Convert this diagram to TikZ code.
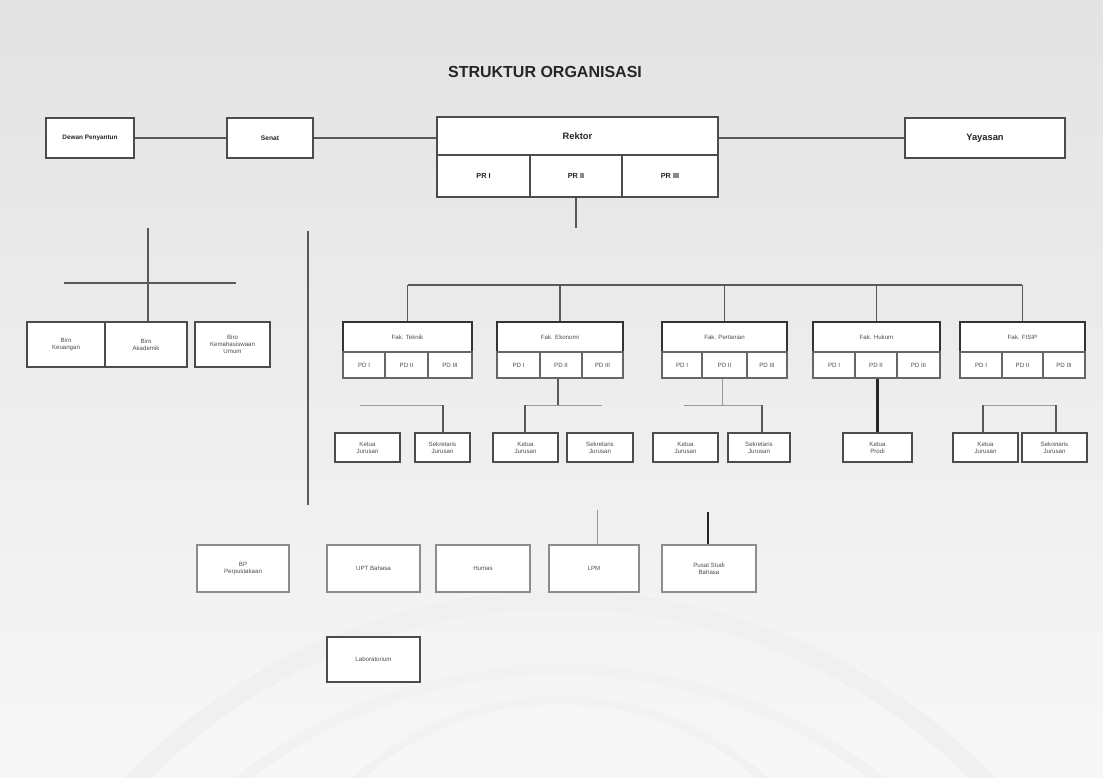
\documentclass[tikz,border=0pt]{standalone}
\usepackage{fontspec}
\setmainfont{Liberation Sans}
\newcommand\bx[7][]{%
  \pgfmathsetmacro\bxw{(#5-#3)*0.75}%
  \pgfmathsetmacro\bxh{(#6-#4)*0.75}%
  \node[box,#1,minimum width=\bxw pt,minimum height=\bxh pt] (#2) at ({(#3+#5)/2},{(#4+#6)/2}) {#7};}
\tikzset{
  box/.style={draw=black!70, fill=white, line width=1.1pt, inner sep=0.5pt, align=center,
    font=\fontsize{4.6}{5.2}\selectfont, text=black!70},
  bigbox/.style={box, line width=1.3pt, font=\bfseries\fontsize{7}{8}\selectfont, text=black!85},
  subbox/.style={bigbox, font=\bfseries\fontsize{5.5}{6}\selectfont},
  facbox/.style={box, line width=1.7pt, draw=black!80},
  con/.style={draw=black!65, line width=0.9pt},
  faint/.style={draw=black!40, line width=0.6pt},
  heavy/.style={draw=black!85, line width=1.7pt},
}
\begin{document}
\begin{tikzpicture}[x=0.75pt,y=-0.75pt]
\useasboundingbox (0,0) rectangle (1103,778);
\shade[top color=black!11, bottom color=black!3] (0,0) rectangle (1103,778);
% faint watermark
\begin{scope}
\clip (0,560) rectangle (1103,778);
\draw[black!6, line width=14pt] (560,1190) circle[radius=590];
\draw[black!5, line width=8pt] (560,1190) circle[radius=520];
\draw[black!5, line width=6pt] (560,1000) circle[radius=300];
\end{scope}
% title
\node[font=\bfseries\fontsize{12}{12}\selectfont, text=black!85] (title) at (545,72) {STRUKTUR ORGANISASI};
% top row
\bx[bigbox, font=\bfseries\fontsize{4.8}{5.2}\selectfont]{ya}{46}{118}{134}{158}{Dewan Penyantun}
\bx[bigbox, font=\bfseries\fontsize{5}{5.2}\selectfont]{se}{227}{118}{313}{158}{Senat}
\bx[bigbox]{rk}{437}{117}{718}{155}{Rektor}
\bx[subbox]{pr1}{437}{155}{530}{197}{PR I}
\bx[subbox]{pr2}{530}{155}{622}{197}{PR II}
\bx[subbox]{pr3}{622}{155}{718}{197}{PR III}
\bx[bigbox]{yy}{905}{118}{1065}{158}{Yayasan}
\draw[con] (ya.east) -- (se.west);
\draw[con] (se.east) -- (se.east -| rk.west);
\draw[con] (rk.east |- yy.west) -- (yy.west);
\coordinate (rkd) at (576,228);
\draw[con] (pr2.south) -- (pr2.south |- rkd);
% left cluster
\coordinate (lt) at (148,228);
\coordinate (lh1) at (64,283);
\coordinate (lh2) at (236,283);
\bx{b1}{27}{322}{105}{367}{Biro\\Keuangan}
\bx{b2}{105}{322}{187}{367}{Biro\\Akademik}
\bx{b3}{195}{322}{270}{367}{Biro\\Kemahasiswaan\\Umum}
\draw[con] (lt) -- (lt |- b2.north);
\draw[con] (lh1) -- (lh2);
\coordinate (vt) at (308,231);
\coordinate (vb) at (308,505);
\draw[con] (vt) -- (vb);
% faculty boxes
\coordinate (busl) at (408,285);
\coordinate (busr) at (1022,285);
\draw[con] (busl) -- (busr);
\bx[facbox]{f1}{343}{322}{472}{352}{Fak. Teknik}
\bx[facbox]{f2}{497}{322}{623}{352}{Fak. Ekonomi}
\bx[facbox]{f3}{662}{322}{787}{352}{Fak. Pertanian}
\bx[facbox]{f4}{813}{322}{940}{352}{Fak. Hukum}
\bx[facbox]{f5}{960}{322}{1085}{352}{Fak. FISIP}
\foreach \f in {f1,f2,f3,f4,f5}{\draw[con] (\f.north |- busl) -- (\f.north);}
% sub cells
\bx[box, draw=black!60]{f1a}{343}{352}{385}{378}{PD I}
\bx[box, draw=black!60]{f1b}{385}{352}{428}{378}{PD II}
\bx[box, draw=black!60]{f1c}{428}{352}{472}{378}{PD III}
\bx[box, draw=black!60]{f2a}{497}{352}{540}{378}{PD I}
\bx[box, draw=black!60]{f2b}{540}{352}{582}{378}{PD II}
\bx[box, draw=black!60]{f2c}{582}{352}{623}{378}{PD III}
\bx[box, draw=black!60]{f3a}{662}{352}{702}{378}{PD I}
\bx[box, draw=black!60]{f3b}{702}{352}{747}{378}{PD II}
\bx[box, draw=black!60]{f3c}{747}{352}{787}{378}{PD III}
\bx[box, draw=black!60]{f4a}{813}{352}{855}{378}{PD I}
\bx[box, draw=black!60]{f4b}{855}{352}{897}{378}{PD II}
\bx[box, draw=black!60]{f4c}{897}{352}{940}{378}{PD III}
\bx[box, draw=black!60]{f5a}{960}{352}{1002}{378}{PD I}
\bx[box, draw=black!60]{f5b}{1002}{352}{1043}{378}{PD II}
\bx[box, draw=black!60]{f5c}{1043}{352}{1085}{378}{PD III}
% department boxes
\bx{d1a}{335}{433}{400}{462}{Ketua\\Jurusan}
\bx{d1b}{415}{433}{470}{462}{Sekretaris\\Jurusan}
\bx{d2a}{493}{433}{558}{462}{Ketua\\Jurusan}
\bx{d2b}{567}{433}{633}{462}{Sekretaris\\Jurusan}
\bx{d3a}{653}{433}{718}{462}{Ketua\\Jurusan}
\bx{d3b}{728}{433}{790}{462}{Sekretaris\\Jurusan}
\bx{d4a}{843}{433}{912}{462}{Ketua\\Prodi}
\bx{d5a}{953}{433}{1018}{462}{Ketua\\Jurusan}
\bx{d5b}{1022}{433}{1087}{462}{Sekretaris\\Jurusan}
% department connectors
\coordinate (h1l) at (360,405);
\coordinate (h1r) at (443,405);
\draw[faint] (h1l) -- (h1r);
\draw[con] (h1r) -- (h1r |- d1b.north);
\coordinate (h2c) at (558,405);
\coordinate (h2l) at (525,405);
\coordinate (h2r) at (602,405);
\draw[con] (h2c |- f2b.south) -- (h2c);
\draw[faint] (h2l) -- (h2r);
\draw[con] (h2l) -- (h2l |- d2a.north);
\coordinate (h3c) at (722,405);
\coordinate (h3l) at (684,405);
\coordinate (h3r) at (762,405);
\draw[faint] (h3c |- f3b.south) -- (h3c);
\draw[faint] (h3l) -- (h3r);
\draw[con] (h3r) -- (h3r |- d3b.north);
\draw[heavy] (f4b.south -| d4a.north) -- (d4a.north);
\coordinate (h5l) at (983,405);
\coordinate (h5r) at (1056,405);
\draw[faint] (h5l) -- (h5r);
\draw[con] (h5l) -- (h5l |- d5a.north);
\draw[con] (h5r) -- (h5r |- d5b.north);
% bottom row
\bx[box, draw=black!45]{u1}{197}{545}{289}{592}{BP\\Perpustakaan}
\bx[box, draw=black!45]{u2}{327}{545}{420}{592}{UPT Bahasa}
\bx[box, draw=black!45]{u3}{436}{545}{530}{592}{Humas}
\bx[box, draw=black!45]{u4}{549}{545}{639}{592}{LPM}
\bx[box, draw=black!45]{u5}{662}{545}{756}{592}{Pusat Studi\\Bahasa}
\bx{u6}{327}{637}{420}{682}{Laboratorium}
\coordinate (u4t) at (597,510);
\coordinate (u5t) at (708,512);
\draw[faint] (u4t) -- (u4t |- u4.north);
\draw[heavy] (u5t) -- (u5t |- u5.north);
\end{tikzpicture}
\end{document}
